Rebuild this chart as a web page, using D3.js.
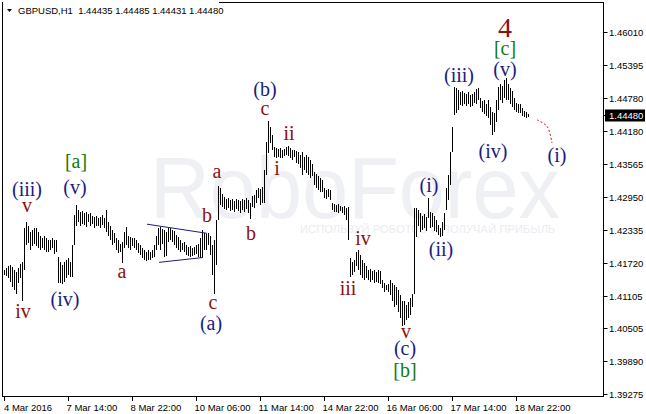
<!DOCTYPE html>
<html><head><meta charset="utf-8">
<script src="https://cdn.jsdelivr.net/npm/d3@7"></script>
<style>body{margin:0;background:#fff}svg{display:block}</style>
</head><body>
<svg id="c" width="646" height="414"></svg>
<script>
const symbolHeader = "GBPUSD,H1  1.44435 1.44485 1.44431 1.44480";
const lastPrice = 1.44480;
const highs = [
1.4158,1.4162,1.4166,1.4168,1.4164,1.4158,1.4155,1.4162,1.4170,1.4173,
1.4236,1.4248,1.4240,1.4229,1.4233,1.4236,1.4236,1.4229,1.4222,1.4218,
1.4222,1.4218,1.4214,1.4214,1.4218,1.4214,1.4214,1.4183,1.4173,1.4168,
1.4173,1.4177,1.4181,1.4173,1.4205,1.4261,1.4279,1.4270,1.4266,1.4268,
1.4264,1.4266,1.4263,1.4264,1.4259,1.4257,1.4259,1.4255,1.4257,1.4261,
1.4255,1.4270,1.4248,1.4240,1.4233,1.4227,1.4218,1.4214,1.4207,1.4210,
1.4229,1.4238,1.4222,1.4220,1.4218,1.4218,1.4214,1.4209,1.4205,1.4199,
1.4196,1.4192,1.4196,1.4192,1.4196,1.4205,1.4222,1.4236,1.4238,1.4235,
1.4233,1.4229,1.4236,1.4236,1.4233,1.4231,1.4223,1.4220,1.4214,1.4209,
1.4210,1.4205,1.4201,1.4203,1.4199,1.4201,1.4205,1.4207,1.4218,1.4233,
1.4227,1.4225,1.4227,1.4222,1.4205,1.4214,1.4251,1.4315,1.4311,1.4300,
1.4294,1.4290,1.4292,1.4289,1.4290,1.4287,1.4290,1.4289,1.4287,1.4290,
1.4289,1.4292,1.4289,1.4283,1.4296,1.4298,1.4307,1.4311,1.4309,1.4313,
1.4344,1.4397,1.4436,1.4424,1.4410,1.4387,1.4385,1.4384,1.4385,1.4382,
1.4384,1.4387,1.4389,1.4385,1.4382,1.4382,1.4380,1.4378,1.4372,1.4378,
1.4369,1.4372,1.4369,1.4363,1.4356,1.4341,1.4337,1.4333,1.4330,1.4326,
1.4311,1.4307,1.4309,1.4307,1.4283,1.4281,1.4279,1.4281,1.4277,1.4276,
1.4277,1.4274,1.4276,1.4181,1.4173,1.4177,1.4192,1.4196,1.4186,1.4177,
1.4171,1.4166,1.4158,1.4160,1.4156,1.4158,1.4155,1.4158,1.4156,1.4140,
1.4134,1.4130,1.4132,1.4140,1.4134,1.4130,1.4127,1.4121,1.4112,1.4102,
1.4102,1.4093,1.4099,1.4106,1.4115,1.4274,1.4274,1.4270,1.4264,1.4259,
1.4263,1.4257,1.4292,1.4266,1.4264,1.4259,1.4251,1.4242,1.4236,1.4248,
1.4264,1.4311,1.4335,1.4378,1.4424,1.4499,1.4497,1.4493,1.4490,1.4492,
1.4488,1.4486,1.4490,1.4484,1.4486,1.4490,1.4495,1.4497,1.4479,1.4473,
1.4475,1.4467,1.4475,1.4462,1.4452,1.4451,1.4475,1.4499,1.4505,1.4501,
1.4512,1.4516,1.4505,1.4497,1.4492,1.4479,1.4469,1.4467,1.4467,1.4460,
1.4454,1.4452,1.44485];
const lows = [
1.4149,1.4147,1.4143,1.4136,1.4128,1.4121,1.4115,1.4134,1.4143,1.4102,
1.4158,1.4205,1.4209,1.4196,1.4203,1.4207,1.4203,1.4199,1.4196,1.4199,
1.4196,1.4192,1.4192,1.4196,1.4199,1.4188,1.4192,1.4134,1.4134,1.4132,
1.4136,1.4143,1.4149,1.4145,1.4145,1.4205,1.4240,1.4248,1.4240,1.4244,
1.4242,1.4238,1.4248,1.4240,1.4244,1.4236,1.4240,1.4240,1.4236,1.4242,
1.4236,1.4229,1.4222,1.4214,1.4205,1.4209,1.4196,1.4190,1.4192,1.4171,
1.4199,1.4205,1.4199,1.4196,1.4203,1.4199,1.4196,1.4190,1.4186,1.4181,
1.4177,1.4175,1.4177,1.4177,1.4181,1.4183,1.4196,1.4205,1.4196,1.4207,
1.4183,1.4184,1.4210,1.4214,1.4210,1.4205,1.4199,1.4196,1.4192,1.4196,
1.4192,1.4186,1.4184,1.4183,1.4184,1.4186,1.4188,1.4183,1.4181,1.4183,
1.4196,1.4196,1.4205,1.4186,1.4149,1.4115,1.4168,1.4251,1.4279,1.4276,
1.4272,1.4270,1.4274,1.4268,1.4270,1.4266,1.4272,1.4268,1.4264,1.4270,
1.4266,1.4272,1.4264,1.4253,1.4276,1.4274,1.4283,1.4292,1.4279,1.4283,
1.4283,1.4335,1.4376,1.4395,1.4382,1.4369,1.4367,1.4369,1.4367,1.4367,
1.4371,1.4372,1.4371,1.4367,1.4363,1.4369,1.4358,1.4356,1.4348,1.4335,
1.4345,1.4339,1.4335,1.4330,1.4333,1.4316,1.4311,1.4307,1.4303,1.4303,
1.4292,1.4290,1.4294,1.4289,1.4270,1.4266,1.4266,1.4264,1.4268,1.4264,
1.4261,1.4251,1.4214,1.4145,1.4149,1.4155,1.4166,1.4158,1.4149,1.4143,
1.4140,1.4143,1.4140,1.4136,1.4140,1.4134,1.4136,1.4134,1.4132,1.4125,
1.4117,1.4121,1.4117,1.4112,1.4102,1.4089,1.4093,1.4080,1.4069,1.4054,
1.4056,1.4065,1.4069,1.4075,1.4089,1.4115,1.4220,1.4240,1.4229,1.4233,
1.4236,1.4231,1.4255,1.4236,1.4238,1.4231,1.4229,1.4223,1.4220,1.4222,
1.4233,1.4270,1.4289,1.4316,1.4378,1.4447,1.4451,1.4456,1.4466,1.4464,
1.4467,1.4464,1.4467,1.4462,1.4464,1.4469,1.4467,1.4475,1.4460,1.4452,
1.4449,1.4445,1.4441,1.4428,1.4410,1.4415,1.4434,1.4456,1.4475,1.4469,
1.4479,1.4475,1.4475,1.4467,1.4462,1.4456,1.4452,1.4451,1.4451,1.4445,
1.4443,1.4441,1.44431];
const timeLabels = ["4 Mar 2016","7 Mar 14:00","8 Mar 22:00","10 Mar 06:00","11 Mar 14:00","14 Mar 22:00","16 Mar 06:00","17 Mar 14:00","18 Mar 22:00"];
const timeLabelBars = [0,32,64,96,128,160,192,224,256];
const priceTicks = [1.46010,1.45395,1.44780,1.44180,1.43565,1.42950,1.42335,1.41720,1.41105,1.40505,1.39890,1.39275];
// wave labels: text, bar index, price anchor (baseline), degree
const waveLabels = [
 ["(iii)",11.5,1.4296,"minor"],["v",11.5,1.4266,"minute"],["[a]",36,1.4348,"inter"],["(v)",35.5,1.4300,"minor"],
 ["iv",9.5,1.4069,"minute"],["(iv)",30.5,1.4091,"minor"],["a",59,1.4143,"minute"],["b",101.5,1.4248,"minute"],
 ["a",106.5,1.4330,"minute"],["c",104.5,1.4087,"minute"],["(a)",103.5,1.4048,"minor"],["b",123.5,1.4214,"minute"],
 ["(b)",130.5,1.4482,"minor"],["c",130.5,1.4447,"minute"],["ii",142.5,1.4400,"minute"],["i",136.5,1.4335,"minute"],
 ["iv",179.5,1.4205,"minute"],["iii",172,1.4112,"minute"],["v",201,1.4032,"minute"],["(c)",200.5,1.4000,"minor"],
 ["[b]",200.5,1.3959,"inter"],["(i)",212.5,1.4304,"minor"],["(ii)",218.5,1.4184,"minor"],["(iii)",227.5,1.4508,"minor"],
 ["4",250.5,1.4592,"primary"],["[c]",250.5,1.4559,"inter"],["(v)",250.5,1.4520,"minor"],["(iv)",244.5,1.4367,"minor"],
 ["(i)",276.5,1.4359,"minor"]
];
const triangleUpper = [[71.5,1.4244],[101.5,1.4227]];
const triangleLower = [[77.5,1.4173],[99.5,1.4182]];
const projection = [[266.5,1.4438],[271.5,1.4426],[274,1.4395]];

const degreeStyle = {
  minor:{fill:"#1c1c7e",size:20},
  minute:{fill:"#8a1111",size:20},
  inter:{fill:"#127a12",size:20},
  primary:{fill:"#8a1111",size:28}
};

const svg = d3.select("#c");
const x = d3.scaleLinear().domain([0,262]).range([4,528]);
const y = d3.scaleLinear().domain([1.39275,1.46010]).range([394.3,32.3]);
const axisFont = "'Liberation Sans', Arial, sans-serif";

svg.append("rect").attr("width",646).attr("height",414).attr("fill","#fff");

// watermark
const wm = svg.append("g").attr("fill","#eef0f4");
wm.append("text").attr("x",150).attr("y",218).attr("font-family",axisFont).attr("font-size",88)
  .attr("textLength",410).attr("lengthAdjust","spacingAndGlyphs").text("RoboForex");
wm.append("text").attr("x",300).attr("y",233).attr("font-family",axisFont).attr("font-size",11)
  .attr("fill","#e9ecf1").attr("textLength",255).text("ИСПОЛЬЗУЙ РОБОТОВ И ПОЛУЧАЙ ПРИБЫЛЬ");

// frame
svg.append("rect").attr("x",2.5).attr("y",2.5).attr("width",601).attr("height",394)
  .attr("fill","none").attr("stroke","#000").attr("stroke-width",1);

// bars
svg.append("g").attr("stroke","#000").attr("stroke-width",1)
  .selectAll("line").data(highs).join("line")
  .attr("x1",(d,i)=>Math.round(x(i))+0.5).attr("x2",(d,i)=>Math.round(x(i))+0.5)
  .attr("y1",d=>Math.round(y(d))).attr("y2",(d,i)=>Math.max(Math.round(y(lows[i])),Math.round(y(d))+1));

// triangle
const tl = d3.line().x(d=>x(d[0])).y(d=>y(d[1]));
svg.append("path").attr("d",tl(triangleUpper)).attr("stroke","#1c1c7e").attr("fill","none");
svg.append("path").attr("d",tl(triangleLower)).attr("stroke","#1c1c7e").attr("fill","none");

// projection
svg.append("path").attr("d",d3.line().x(d=>x(d[0])).y(d=>y(d[1])).curve(d3.curveCatmullRom)(projection))
  .attr("stroke","#d01020").attr("fill","none").attr("stroke-dasharray","2,2");

// wave labels
svg.append("g").attr("font-family","'Liberation Serif','Times New Roman',serif").attr("text-anchor","middle")
  .selectAll("text").data(waveLabels).join("text")
  .attr("x",d=>x(d[1])).attr("y",d=>y(d[2]))
  .attr("fill",d=>degreeStyle[d[3]].fill).attr("font-size",d=>degreeStyle[d[3]].size)
  .text(d=>d[0]);

// price axis
const pa = svg.append("g").attr("font-family",axisFont).attr("font-size",9.5);
priceTicks.forEach(p=>{
  const yy = Math.round(y(p))+0.5;
  pa.append("line").attr("x1",603.5).attr("x2",607.5).attr("y1",yy).attr("y2",yy).attr("stroke","#000");
  pa.append("text").attr("x",609).attr("y",yy).attr("dy","0.35em").attr("fill","#000").text(d3.format(".5f")(p));
});
const ly = Math.round(y(lastPrice))+0.5;
pa.append("rect").attr("x",605).attr("y",ly-6).attr("width",40).attr("height",12).attr("fill","#000");
pa.append("line").attr("x1",603.5).attr("x2",607.5).attr("y1",ly).attr("y2",ly).attr("stroke","#000");
pa.append("text").attr("x",609).attr("y",ly).attr("dy","0.35em").attr("fill","#fff").text(d3.format(".5f")(lastPrice));

// time axis
const ta = svg.append("g").attr("font-family",axisFont).attr("font-size",9.5);
timeLabels.forEach((t,k)=>{
  const xx = Math.round(x(timeLabelBars[k]))+0.5;
  ta.append("line").attr("x1",xx).attr("x2",xx).attr("y1",396.5).attr("y2",401).attr("stroke","#000");
  ta.append("text").attr("x",Math.max(xx-2,4)).attr("y",411).attr("fill","#000").text(t);
});

// header
svg.append("rect").attr("x",3).attr("y",0).attr("width",216).attr("height",16).attr("fill","#fff");
svg.append("path").attr("d","M7,9 L12,9 L9.5,12 Z").attr("fill","#000");
svg.append("text").attr("x",18).attr("y",14).attr("font-family",axisFont).attr("font-size",9.5)
  .attr("fill","#000").attr("xml:space","preserve").text(symbolHeader);
</script>
</body></html>
